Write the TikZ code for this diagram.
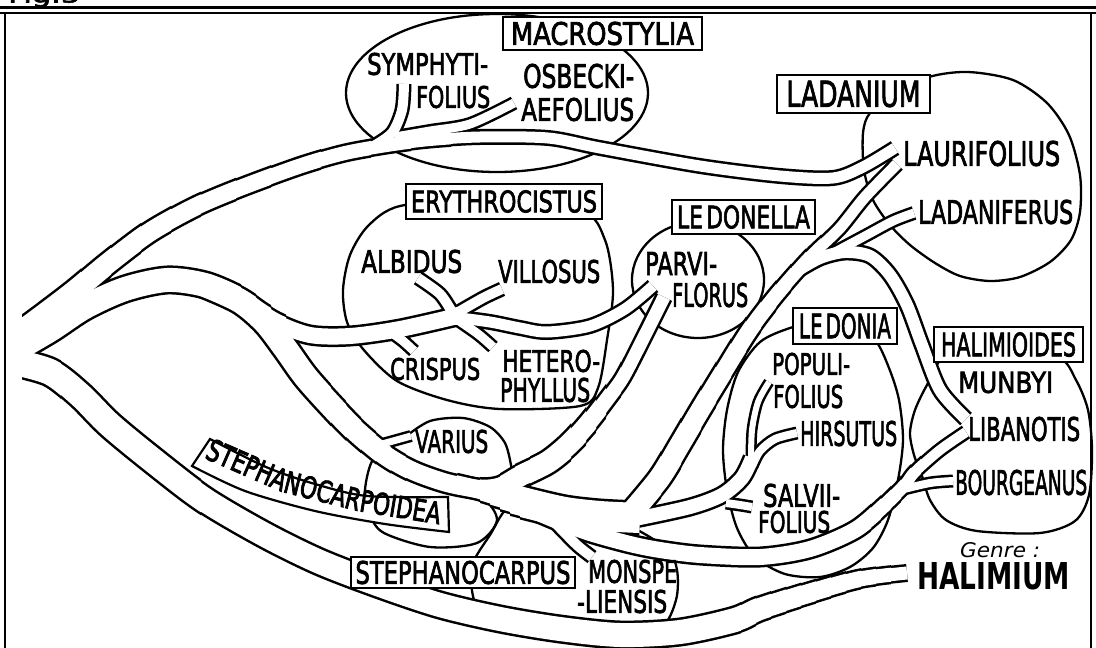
\documentclass[tikz,border=0pt]{standalone}
\usepackage{fontspec}
\setmainfont{DejaVu Sans}
\newfontfamily\labfont[FakeBold=2.5]{DejaVu Sans}
\newfontfamily\condfont[FakeStretch=0.72,FakeBold=2.5]{DejaVu Sans}
\pgfdeclarelayer{back}
\pgfsetlayers{back,main}
\newif\ifwhitepass
\newcommand\tubeseg[2]{%
  \ifwhitepass
    \draw[white, line width=#1pt, line cap=butt, line join=round] #2;%
  \else
    \pgfmathsetmacro\tubeblack{#1+5}%
    \draw[black, line width=\tubeblack pt, line cap=butt, line join=round] #2;%
  \fi}
\newcommand\taperx[2]{%
  \foreach \xa/\xb/\ww in {#2}{%
    \begin{scope}
      \clip (\xa,-20) rectangle (\xb,700);
      \tubeseg{\ww}{#1}%
    \end{scope}}}
\newcommand\patch[2]{\ifwhitepass\fill[white] #1 circle (#2pt);\fi}
\newcommand\mylbl[3]{\resizebox{#1pt}{#2pt}{\labfont #3}}
\newcommand\alltubes{%
 % upper branch to LAURIFOLIUS
 \taperx{plot[smooth] coordinates {(rootU) (45,314) (75,291) (110,262) (150,232) (195,207) (240,188) (300,166) (345,153) (390,145) (430,140) (480,137) (548,138) (600,148) (700,166) (780,176) (833,178) (863,167) (eTop)}}%
   {0/81/22, 80/111/21, 110/141/20, 140/171/19, 170/201/18, 200/236/17, 235/271/16, 270/321/15, 320/371/14, 370/411/13, 410/451/12, 450/1100/11}%
 \tubeseg{10}{plot[smooth] coordinates {(372,147) (392,133) (402,110) (eSym)}}%
 \tubeseg{9}{plot[smooth] coordinates {(395,137) (430,131) (470,124) (eOsb)}}%
 % middle branch to ERYTHROCISTUS
 \taperx{plot[smooth] coordinates {(rootM) (50,330) (85,307) (125,289) (167,280) (205,285) (240,300) (275,322) (310,335) (350,336) (400,329) (462,315)}}%
   {0/241/24, 240/256/22, 255/271/20, 270/286/18, 285/1100/16}%
 \tubeseg{10}{plot[smooth] coordinates {(452,312) (440,294) (eAlb)}}%
 \tubeseg{10}{plot[smooth] coordinates {(455,314) (483,298) (eVil)}}%
 \tubeseg{9}{plot[smooth] coordinates {(388,330) (403,341) (eCri)}}%
 \tubeseg{9}{plot[smooth] coordinates {(455,318) (478,334) (eHet)}}%
 \tubeseg{11}{plot[smooth] coordinates {(452,317) (490,322) (520,328) (547,332) (590,326) (625,309) (ePar)}}%
 \patch{(457,316)}{9}%
 % branch past VARIUS, curving up to PARVIFLORUS
 \taperx{plot[smooth] coordinates {(205,285) (240,301) (265,322) (285,348) (305,376) (328,402) (355,430) (385,455) (413,471) (447,483) (480,489) (500,487) (520,476) (548,462) (570,444) (590,422) (610,396) (624,376) (645,335) (eT1)}}%
   {0/331/24, 330/346/23, 345/361/22, 360/376/21, 375/391/20, 390/406/19, 405/481/18, 480/501/19, 500/516/20, 515/531/21, 530/571/22, 570/586/20, 585/596/18, 595/606/16, 605/621/14, 620/1100/13}%
 \tubeseg{7}{plot[smooth] coordinates {(375,446) (eVar)}}%
 % central junction
 \taperx{plot[smooth] coordinates {(455,484) (480,490) (500,496) (530,504) (565,512) (600,516) (640,518)}}%
   {0/481/18, 480/491/20, 490/501/22, 500/511/25, 510/521/28, 520/1100/30}%
 \tubeseg{10}{plot[smooth] coordinates {(545,512) (562,530) (578,546) (eMon)}}%
 % long diagonal to LAURIFOLIUS
 \taperx{plot[smooth] coordinates {(632,512) (660,478) (680,445) (700,411) (725,370) (750,330) (775,297) (800,268) (815,252) (840,228) (865,197) (eT2)}}%
   {0/661/22, 660/681/21, 680/701/20, 700/716/19, 715/731/18, 730/746/17, 745/761/16, 760/776/15, 775/791/14, 790/806/13, 805/821/12, 820/1100/11}%
 \tubeseg{9}{plot[smooth] coordinates {(eLadf) (893,221) (865,236) (835,252)}}%
 \tubeseg{12}{plot[smooth] coordinates {(795,272) (820,258) (845,252) (870,256) (890,275) (907,305) (922,345) (940,390) (eArch)}}%
 % LEDONIA twigs
 \tubeseg{14}{plot[smooth] coordinates {(635,519) (690,507) (722,495) (742,478) (752,458)}}%
 \tubeseg{6}{plot[smooth] coordinates {(751,462) (752,430) (758,402) (ePop)}}%
 \tubeseg{8}{plot[smooth] coordinates {(752,466) (760,451) (775,439) (eHir)}}%
 \tubeseg{8}{plot[smooth] coordinates {(726,503) (740,505) (eSal)}}%
 % branch to LIBANOTIS
 \taperx{plot[smooth] coordinates {(520,505) (555,520) (590,533) (630,544) (660,550) (700,555) (760,557) (810,549) (855,530) (885,505) (905,485) (915,472) (940,450) (eB)}}%
   {0/871/16, 870/881/15, 880/891/14, 890/901/13, 900/911/12, 910/921/11, 920/1100/10}%
 \tubeseg{8}{plot[smooth] coordinates {(900,490) (930,483) (eBou)}}%
 \patch{(512,503)}{9}%
 \patch{(540,507)}{8}%
 % lower branch to HALIMIUM
 \taperx{plot[smooth] coordinates {(rootL) (50,372) (80,395) (110,425) (155,462) (205,500) (265,535) (320,562) (380,585) (440,605) (500,619) (560,629) (620,635) (680,632) (735,620) (760,609) (810,593) (860,579) (eHal)}}%
   {0/61/26, 60/201/25, 200/741/24, 740/756/23, 755/771/22, 770/786/21, 785/801/20, 800/816/19, 815/831/18, 830/846/17, 845/861/16, 860/876/15, 875/891/14, 890/1100/13}%
}
\begin{document}
\begin{tikzpicture}[x=1pt,y=-1pt,
  blob/.style={draw=black, line width=2.3pt},
  lab/.style={anchor=west, inner sep=0pt},
  lbox/.style={draw=black, line width=2.2pt, fill=white, inner sep=0pt},
  banner/.style={draw=black, line width=2.2pt, fill=white},
  bchunk/.style={anchor=base, inner sep=0pt, font=\condfont\fontsize{30}{30}\selectfont}]
\useasboundingbox (0,0) rectangle (1096,648);
% frame
\draw[line width=2.2pt] (0,7.5) -- (1096,7.5);
\draw[line width=2.8pt] (0,13) -- (1096,13);
\draw[line width=2.8pt] (5,13) -- (5,648);
\draw[line width=2.6pt] (1091,13) -- (1091,648);
\node[anchor=base west, inner sep=0pt] (fig) at (8,2.5) {\mylbl{72}{16}{Fig.5}};
% named tube ends
\coordinate (rootU) at (14,337);
\coordinate (rootM) at (12,352);
\coordinate (rootL) at (10,361);
\coordinate (eTop) at (895,148);
\coordinate (eT2) at (897,164);
\coordinate (eLadf) at (914,213);
\coordinate (eSym) at (404,84);
\coordinate (eOsb) at (514,103);
\coordinate (eAlb) at (418,278);
\coordinate (eVil) at (502,289);
\coordinate (eCri) at (414,351);
\coordinate (eHet) at (493,347);
\coordinate (ePar) at (653,286);
\coordinate (eT1) at (664,297);
\coordinate (eVar) at (411,436);
\coordinate (eMon) at (592,557);
\coordinate (eArch) at (966,419);
\coordinate (eB) at (966,432);
\coordinate (eBou) at (953,481);
\coordinate (ePop) at (769,382);
\coordinate (eHir) at (797,433);
\coordinate (eSal) at (752,507);
\coordinate (eHal) at (907,573);
\begin{pgfonlayer}{back}
  % group outlines
  \draw[blob] (497,93) ellipse [x radius=151pt, y radius=79pt];
  \draw[blob] plot[smooth cycle] coordinates {(343,290) (350,255) (368,226) (400,206) (480,200) (580,210) (605,240) (613,290) (607,340) (598,388) (580,406) (500,409) (447,400) (397,381) (363,349) (347,322)};
  \draw[blob] (698,280) ellipse [x radius=66pt, y radius=58pt];
  \draw[blob] plot[smooth cycle] coordinates {(929,77) (968,72) (1013,80) (1047,103) (1069,135) (1080,175) (1080,212) (1071,240) (1050,262) (1020,277) (990,281) (960,276) (935,263) (910,245) (890,225) (873,200) (864,170) (863,133) (870,113) (895,95)};
  \draw[blob] plot[smooth cycle] coordinates {(820,322) (790,328) (760,342) (738,372) (727,410) (723,450) (727,490) (737,528) (755,557) (785,574) (820,577) (850,567) (873,548) (888,520) (898,480) (903,440) (899,400) (889,368) (875,340) (850,326)};
  \draw[blob] plot[smooth cycle] coordinates {(1000,350) (945,357) (927,385) (915,410) (910,433) (914,455) (922,476) (930,500) (946,520) (977,531) (1040,533) (1075,521) (1089,495) (1092,450) (1088,410) (1076,380) (1058,357)};
  \draw[blob] plot[smooth cycle] coordinates {(373,460) (365,490) (370,515) (384,533) (430,547) (477,543) (497,520) (480,496) (430,478) (392,462)};
  \draw[blob] plot[smooth cycle] coordinates {(512,505) (490,535) (472,566) (474,600) (490,622) (540,630) (610,634) (660,628) (676,600) (677,570) (666,548) (620,522) (560,510)};
  \draw[blob] plot[smooth] coordinates {(405,437) (430,421) (463,418) (490,427) (505,443) (511,465) (512,478)};
  % branches
  \begin{scope}
    \clip (22,0) rectangle (1096,648);
    \whitepassfalse \alltubes
    \whitepasstrue \alltubes
  \end{scope}
\end{pgfonlayer}
% group labels
\node[lbox, minimum width=199pt, minimum height=33pt] (mac) at (602.5,33.5) {\mylbl{183}{23}{MACROSTYLIA}};
\node[lbox, minimum width=153pt, minimum height=38pt] (lad) at (853.5,94) {\mylbl{134}{26}{LADANIUM}};
\node[lbox, minimum width=196pt, minimum height=35pt] (ery) at (504,201.5) {\mylbl{186}{22}{ERYTHROCISTUS}};
\node[lbox, minimum width=143pt, minimum height=34pt] (ledl) at (743.5,217) {\mylbl{133}{23}{LE\hspace{0.15em}DONELLA}};
\node[lbox, minimum width=104pt, minimum height=36pt] (ledo) at (845,326) {\mylbl{92}{25}{LE\hspace{0.15em}DONIA}};
\node[lbox, minimum width=149pt, minimum height=35pt] (hlm) at (1008.5,344.5) {\mylbl{135}{24}{HALIMIOIDES}};
\node[lbox, minimum width=224pt, minimum height=31pt] (stc) at (463,572.5) {\mylbl{215}{23}{STEPHANOCARPUS}};
\draw[banner] plot[smooth] coordinates {(210,439) (266,467) (315,484) (367,496) (448,497)} -- plot[smooth] coordinates {(449,532) (385,524) (315,511) (245,491) (192,466)} -- cycle;
\node[bchunk, rotate=-23.5] (sto1) at (242.8,474.9) {STEPHA};
\node[bchunk, rotate=-14.2] (sto2) at (320.1,501.5) {NOCAR};
\node[bchunk, rotate=-9.3] (sto3) at (398.9,517.7) {POIDEA};
% species
\node[lab] (sym1) at (367,64) {\mylbl{121}{22}{SYMPHYTI-}};
\node[lab] (sym2) at (416,97) {\mylbl{74}{22}{FOLIUS}};
\node[lab] (osb1) at (523,76) {\mylbl{111}{24}{OSBECKI-}};
\node[lab] (osb2) at (521,109.5) {\mylbl{113}{23}{AEFOLIUS}};
\node[lab] (lau) at (903,153.5) {\mylbl{157}{25}{LAURIFOLIUS}};
\node[lab] (ladf) at (918,212) {\mylbl{155}{24}{LADANIFERUS}};
\node[lab] (alb) at (361,261.5) {\mylbl{101}{23}{ALBIDUS}};
\node[lab] (vil) at (498,271.5) {\mylbl{102}{23}{VILLOSUS}};
\node[lab] (cri) at (390,369) {\mylbl{90}{22}{CRISPUS}};
\node[lab] (het1) at (502,361) {\mylbl{98}{22}{HETERO-}};
\node[lab] (het2) at (500,390) {\mylbl{90}{24}{PHYLLUS}};
\node[lab] (par1) at (645,263.5) {\mylbl{72}{23}{PARVI-}};
\node[lab] (par2) at (672,295) {\mylbl{76}{24}{FLORUS}};
\node[lab] (pop1) at (772,364) {\mylbl{78}{22}{POPULI-}};
\node[lab] (pop2) at (773,396.5) {\mylbl{70}{23}{FOLIUS}};
\node[lab] (hir) at (800,433.5) {\mylbl{97}{25}{HIRSUTUS}};
\node[lab] (sal1) at (763,495.5) {\mylbl{77}{23}{SALVII-}};
\node[lab] (sal2) at (758,522) {\mylbl{72}{22}{FOLIUS}};
\node[lab] (mun) at (958,382.5) {\mylbl{95}{21}{MUNBYI}};
\node[lab] (lib) at (968,429) {\mylbl{112}{24}{LIBANOTIS}};
\node[lab] (bou) at (955,482.5) {\mylbl{132}{25}{BOURGEANUS}};
\node[lab] (gen) at (960,550.5) {\resizebox{80pt}{15pt}{\itshape Genre :}};
\node[lab] (hal) at (917,576.5) {\resizebox{153pt}{27pt}{\bfseries HALIMIUM}};
\node[lab] (var) at (415,441.5) {\mylbl{73}{23}{VARIUS}};
\node[lab] (mon1) at (588,571.5) {\mylbl{89}{23}{MONSPE}};
\node[lab] (mon2) at (577,601.5) {\mylbl{90}{23}{-LIENSIS}};
\end{tikzpicture}
\end{document}
